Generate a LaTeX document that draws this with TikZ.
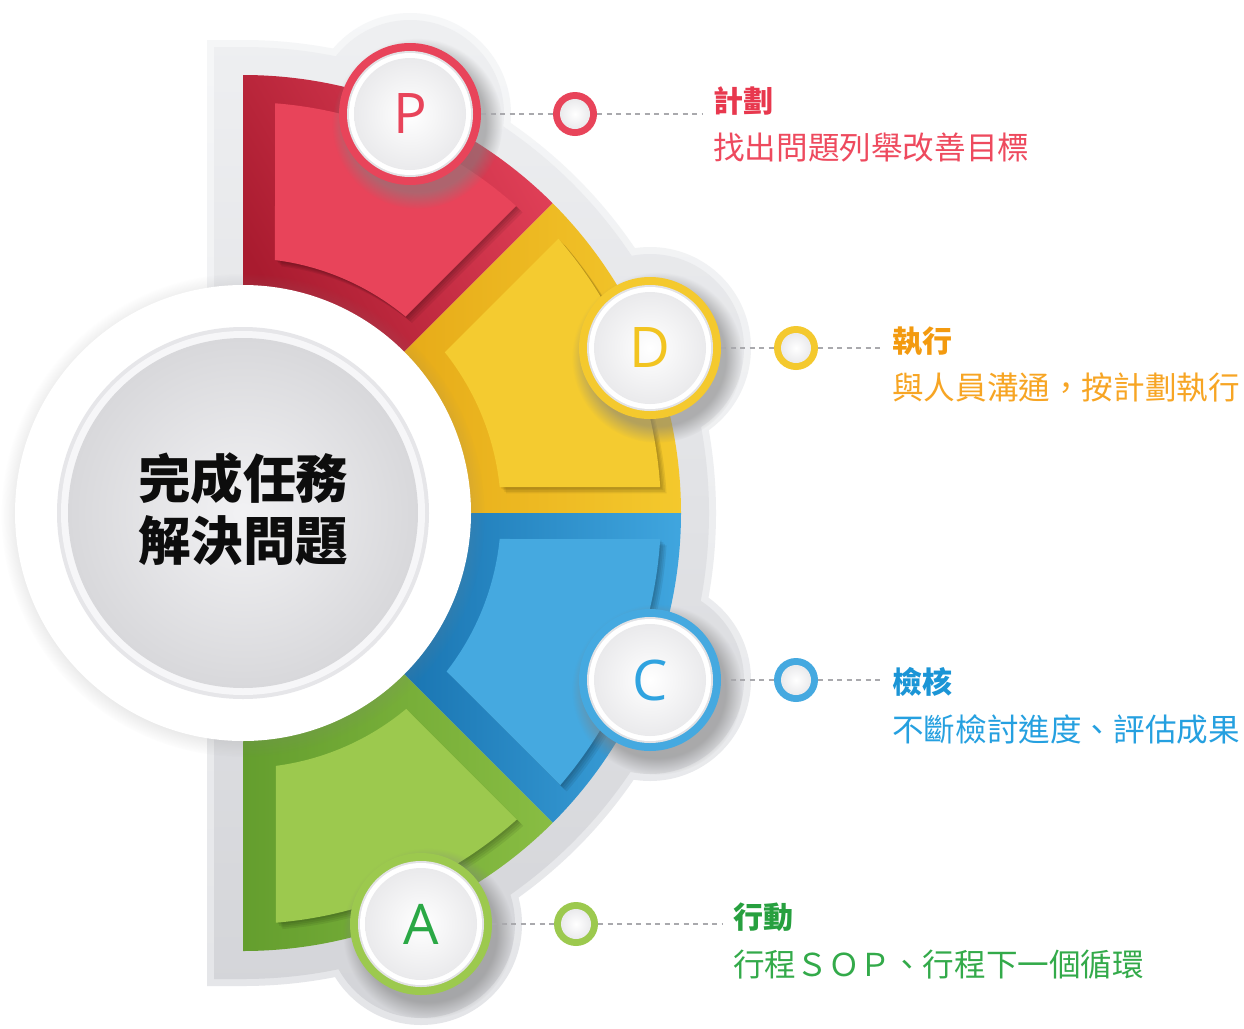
\documentclass[tikz,border=0pt]{standalone}
\usepackage{fontspec}
\usetikzlibrary{shadows,fadings}
\newfontfamily\cjk{Noto Sans CJK TC}
\newfontfamily\latn{Open Sans}
\definecolor{redL}{HTML}{E8445A}
\definecolor{redM}{HTML}{E4425A}
\definecolor{redD}{HTML}{A91B2F}
\definecolor{yelL}{HTML}{F4CB30}
\definecolor{yelM}{HTML}{F4C92D}
\definecolor{yelD}{HTML}{E6AA18}
\definecolor{bluL}{HTML}{45A9E0}
\definecolor{bluM}{HTML}{40A6DF}
\definecolor{bluD}{HTML}{1873B0}
\definecolor{grnL}{HTML}{9CC94E}
\definecolor{grnM}{HTML}{8BBF44}
\definecolor{grnD}{HTML}{649E2E}
\definecolor{txtR}{HTML}{E8384E}
\definecolor{subR}{HTML}{EE4A5E}
\definecolor{txtY}{HTML}{F39A0F}
\definecolor{subY}{HTML}{F7A524}
\definecolor{txtB}{HTML}{1B95D6}
\definecolor{subB}{HTML}{25A0E0}
\definecolor{txtG}{HTML}{27A03F}
\definecolor{subG}{HTML}{33AA4A}
\definecolor{ringY}{HTML}{F4C92E}
\definecolor{letY}{HTML}{F2C420}
\definecolor{letB}{HTML}{2FA3E0}
\definecolor{letG}{HTML}{2AA845}
\definecolor{dashc}{HTML}{A9A9AD}
\definecolor{bgT}{HTML}{EFF0F2}
\definecolor{bgB}{HTML}{D3D4D8}
\definecolor{haloT}{HTML}{F6F7F8}
\definecolor{haloB}{HTML}{E4E5E8}
\definecolor{hubRim}{HTML}{E6E6E9}
\definecolor{hubRing}{HTML}{F6F6F8}
\definecolor{hubIn}{HTML}{F2F2F4}
\definecolor{hubOut}{HTML}{D8D8DB}
\definecolor{btnRim}{HTML}{E2E2E5}
\definecolor{btnOut}{HTML}{EAEAEC}

\tikzset{
  dashline/.style={dashc, line width=1.6pt, dash pattern=on 5pt off 4.5pt},
  ringnode/.style={circle, inner sep=0pt, minimum size=142pt,
    circular drop shadow={shadow xshift=6pt, shadow yshift=-8pt, shadow scale=1.2,
      opacity=0.55, path fading=circle with fuzzy edge 20 percent}},
  dotnode/.style={circle, inner sep=0pt, minimum size=44pt},
  letter/.style={inner sep=0pt, font=\latn\fontsize{56}{56}\selectfont},
  headtxt/.style={anchor=west, inner sep=0pt, font=\cjk\bfseries\fontsize{30}{30}\selectfont},
  bodytxt/.style={anchor=west, inner sep=0pt, font=\cjk\fontsize{31.6}{32}\selectfont},
}

% inner folded card: #1 options, #2 high angle, #3 offset, #4 low angle, #5 offset, #6 r inner, #7 r outer
\newcommand{\InFill}[7]{%
  \fill[#1] ({#2-asin(#3/#7)}:#7) arc[start angle={#2-asin(#3/#7)}, end angle={#4+asin(#5/#7)}, radius=#7]
   -- ({#4+asin(#5/#6)}:#6) arc[start angle={#4+asin(#5/#6)}, end angle={#2-asin(#3/#6)}, radius=#6] -- cycle;}
\newcommand{\CardWithShadow}[7]{%
  \foreach \k in {1,...,4}{\InFill{black, opacity=0.07, shift={({\k*1.6},{-\k*1.6})}}{#2}{#3}{#4}{#5}{#6}{#7}}
  \InFill{#1}{#2}{#3}{#4}{#5}{#6}{#7}}

\begin{document}
\begin{tikzpicture}[x=1pt,y=1pt]
\useasboundingbox (0,0) rectangle (1244,-1028);
\fill[white] (0,0) rectangle (1244,-1028);

% ---------- gray backdrop: halo ----------
\begin{scope}
  \clip (207,-40) -- (207,-986) -- (243,-986) arc[start angle=-90,end angle=90,radius=473] -- cycle;
  \shade[top color=haloT,bottom color=haloB] (180,0) rectangle (800,-1028);
\end{scope}
\foreach \cx/\cy in {410/-114,650/-348,650/-680,421/-924}{
  \begin{scope}
    \clip (\cx,\cy) circle[radius=101];
    \shade[top color=haloT,bottom color=haloB] (180,0) rectangle (800,-1028);
  \end{scope}}
% ---------- gray backdrop: main ----------
\begin{scope}
  \clip (214,-47) -- (214,-979) -- (243,-979) arc[start angle=-90,end angle=90,radius=466] -- cycle;
  \shade[top color=bgT,bottom color=bgB] (180,0) rectangle (800,-1028);
\end{scope}
\foreach \cx/\cy in {410/-114,650/-348,650/-680,421/-924}{
  \begin{scope}
    \clip (\cx,\cy) circle[radius=94];
    \shade[top color=bgT,bottom color=bgB] (180,0) rectangle (800,-1028);
  \end{scope}}

% ---------- coloured sectors ----------
\begin{scope}[shift={(243,-513)}]
  \begin{scope}
    \clip (0,0) -- (90:438) arc[start angle=90,end angle=45,radius=438] -- cycle;
    \shade[top color=redM, bottom color=redD, shading angle=-60] (0,150) rectangle (330,440);
  \end{scope}
  \begin{scope}
    \clip (0,0) -- (45:438) arc[start angle=45,end angle=0,radius=438] -- cycle;
    \shade[left color=yelD, right color=yelM] (150,0) rectangle (440,320);
  \end{scope}
  \begin{scope}
    \clip (0,0) -- (0:438) arc[start angle=0,end angle=-45,radius=438] -- cycle;
    \shade[left color=bluD, right color=bluM] (150,-320) rectangle (440,0);
  \end{scope}
  \begin{scope}
    \clip (0,0) -- (-45:438) arc[start angle=-45,end angle=-90,radius=438] -- cycle;
    \shade[left color=grnD, right color=grnM] (0,-440) rectangle (330,-150);
  \end{scope}
  % folded inner cards
  \CardWithShadow{redL}{90}{32}{45}{24}{255}{411}
  \CardWithShadow{yelL}{45}{29}{0}{26}{258}{418}
  \CardWithShadow{bluL}{0}{26}{-45}{32}{258}{418}
  \CardWithShadow{grnL}{-45}{23}{-90}{33}{255}{411}
\end{scope}

% ---------- central hub ----------
\node[circle, fill=white, inner sep=0pt, minimum size=456pt,
  circular drop shadow={shadow xshift=0pt, shadow yshift=-2pt, shadow scale=1.06, opacity=0.35}]
  (hub) at (243,-513) {};
\fill[hubRim] (hub.center) circle[radius=186];
\fill[hubRing] (hub.center) circle[radius=182];
\shade[inner color=hubIn, outer color=hubOut] (hub.center) circle[radius=175];
\node[align=center, inner sep=0pt, text=black!95,
  font=\cjk\bfseries\fontsize{52.5}{62}\selectfont] (hubtext) at (243,-509) {完成任務\\解決問題};

% ---------- P D C A buttons ----------
\node[ringnode, fill=redL]  (P) at (410,-114) {};
\node[ringnode, fill=ringY] (D) at (650,-348) {};
\node[ringnode, fill=bluL]  (C) at (650,-680) {};
\node[ringnode, fill=grnL]  (A) at (421,-924) {};
\foreach \n in {P,D,C,A}{
  \fill[btnRim] (\n.center) circle[radius=63];
  \fill[white] (\n.center) circle[radius=61];
  \shade[inner color=white, outer color=btnOut] (\n.center) circle[radius=56];
}
\node[letter, text=redL] (lP) at (P.center) {P};
\node[letter, text=letY] (lD) at (D.center) {D};
\node[letter, text=letB] (lC) at (C.center) {C};
\node[letter, text=letG] (lA) at (A.center) {A};

% ---------- markers ----------
\node[dotnode, fill=redL]  (mP) at (575,-114) {};
\node[dotnode, fill=ringY] (mD) at (796,-348) {};
\node[dotnode, fill=bluL]  (mC) at (796,-680) {};
\node[dotnode, fill=grnL]  (mA) at (576,-924) {};
\foreach \n in {mP,mD,mC,mA}{
  \shade[inner color=white, outer color=btnOut] (\n.center) circle[radius=15];
}
\coordinate (eP) at (703,-114);
\coordinate (eD) at (884,-348);
\coordinate (eC) at (884,-680);
\coordinate (eA) at (722,-924);

% ---------- dashed connectors ----------
\draw[dashline] (P) -- (mP);
\draw[dashline] (mP) -- (eP);
\draw[dashline] (D) -- (mD);
\draw[dashline] (mD) -- (eD);
\draw[dashline] (C) -- (mC);
\draw[dashline] (mC) -- (eC);
\draw[dashline] (A) -- (mA);
\draw[dashline] (mA) -- (eA);

% ---------- texts ----------
\node[headtxt, text=txtR] (tP) at (713,-101) {計劃};
\node[bodytxt, text=subR] (sP) at (713,-148) {找出問題列舉改善目標};
\node[headtxt, text=txtY] (tD) at (892,-341) {執行};
\node[bodytxt, text=subY] (sD) at (892,-388) {與人員溝通，按計劃執行};
\node[headtxt, text=txtB] (tC) at (892,-682) {檢核};
\node[bodytxt, text=subB] (sC) at (892,-729) {不斷檢討進度、評估成果};
\node[headtxt, text=txtG] (tA) at (733,-917) {行動};
\node[bodytxt, text=subG] (sA) at (733,-965) {行程ＳＯＰ、行程下一個循環};
\end{tikzpicture}
\end{document}
